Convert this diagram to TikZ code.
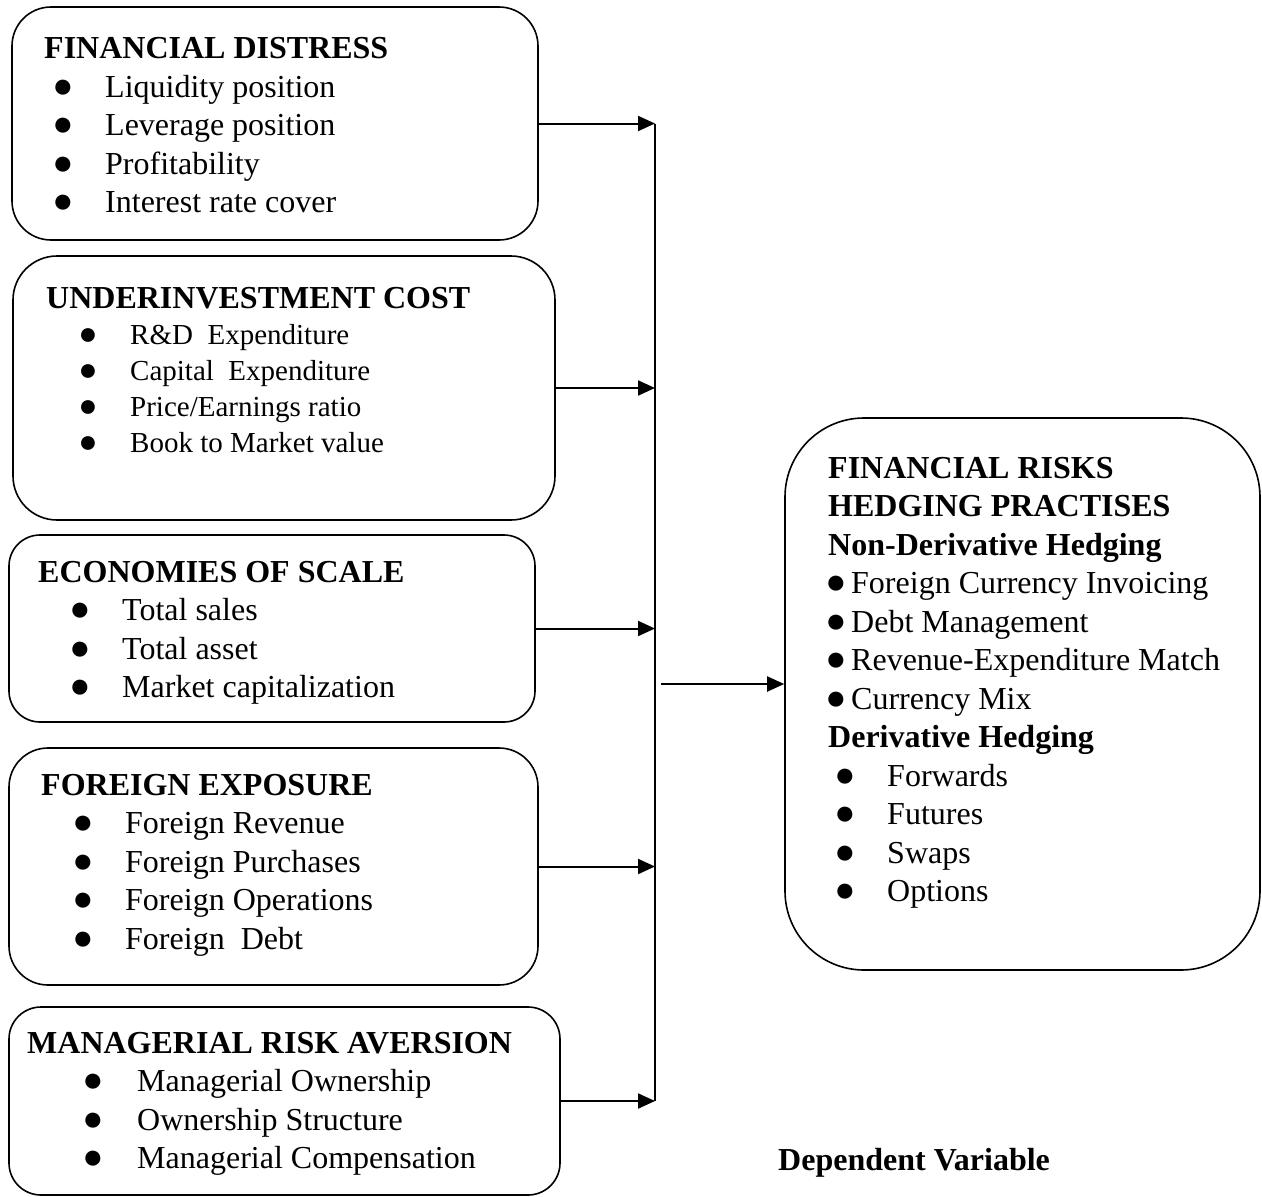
\documentclass[tikz,border=0pt]{standalone}
\usepackage{fontspec}
\setmainfont{Liberation Serif}
\usetikzlibrary{arrows.meta}
\newcommand\fbig{\fontsize{32}{38}\selectfont}
\newcommand\fsmall{\fontsize{29}{35}\selectfont}
\tikzset{
 box/.style={draw,line width=1.6pt,inner sep=0pt},
 head/.style={anchor=base west,inner sep=0pt,font=\fbig\bfseries},
 item/.style={anchor=base west,inner sep=0pt,font=\fbig},
 dot/.style={anchor=base,inner sep=0pt,font=\fontsize{35}{35}\selectfont},
 smalldot/.style={dot,font=\fontsize{32}{32}\selectfont},
 link/.style={line width=2pt,-{Triangle[length=17pt,width=15pt]}}
}
\begin{document}
\begin{tikzpicture}[x=1pt,y=-1pt,line join=round]
 \useasboundingbox (0,0) rectangle (1262,1197);
 % boxes
 \node[box,minimum width=526,minimum height=233,rounded corners=39] (dist) at (275,123.5) {};
 \node[box,minimum width=542,minimum height=264,rounded corners=44] (under) at (284,388) {};
 \node[box,minimum width=526,minimum height=187,rounded corners=31] (scale) at (272,628.5) {};
 \node[box,minimum width=529,minimum height=237,rounded corners=39] (expo) at (273.5,866.5) {};
 \node[box,minimum width=551,minimum height=188,rounded corners=32] (aver) at (284.5,1101) {};
 \node[box,minimum width=475,minimum height=552,rounded corners=79] (hedge) at (1022.5,694) {};

 % financial distress
 \node[head] (dist-h) at (44,58) {FINANCIAL DISTRESS};
 \foreach \t [count=\i] in {Liquidity position,Leverage position,Profitability,Interest rate cover}{
  \node[dot] (dist-b\i) at (63,58.5+38.5*\i) {●};
  \node[item] (dist-\i) at (105,58.5+38.5*\i) {\t};
 }
 % underinvestment
 \node[head] (under-h) at (46,308) {UNDERINVESTMENT COST};
 \foreach \t [count=\i] in {R\&D\ \ Expenditure,Capital\ \ Expenditure,Price/Earnings ratio,Book to Market value}{
  \node[smalldot] (under-b\i) at (88,308+36*\i) {●};
  \node[item,font=\fsmall] (under-\i) at (130,308+36*\i) {\t};
 }
 % economies of scale
 \node[head] (scale-h) at (38,582) {ECONOMIES OF SCALE};
 \foreach \t [count=\i] in {Total sales,Total asset,Market capitalization}{
  \node[dot] (scale-b\i) at (80,582+38.5*\i) {●};
  \node[item] (scale-\i) at (122,582+38.5*\i) {\t};
 }
 % foreign exposure
 \node[head] (expo-h) at (41,795) {FOREIGN EXPOSURE};
 \foreach \t [count=\i] in {Foreign Revenue,Foreign Purchases,Foreign Operations,Foreign\ \ Debt}{
  \node[dot] (expo-b\i) at (83,795+38.5*\i) {●};
  \node[item] (expo-\i) at (125,795+38.5*\i) {\t};
 }
 % risk aversion
 \node[head] (aver-h) at (27,1053) {MANAGERIAL RISK AVERSION};
 \foreach \t [count=\i] in {Managerial Ownership,Ownership Structure,Managerial Compensation}{
  \node[dot] (aver-b\i) at (93,1053+38.5*\i) {●};
  \node[item] (aver-\i) at (137,1053+38.5*\i) {\t};
 }

 % hedging practises
 \node[head] (hedge-h1) at (828,478) {FINANCIAL RISKS};
 \node[head] (hedge-h2) at (828,516.5) {HEDGING PRACTISES};
 \node[head] (hedge-h3) at (828,555) {Non-Derivative Hedging};
 \foreach \t [count=\i] in {Foreign Currency Invoicing,Debt Management,Revenue-Expenditure Match,Currency Mix}{
  \node[dot] (hedge-m\i) at (836,555+38.5*\i) {●};
  \node[item] (hedge-n\i) at (851,555+38.5*\i) {\t};
 }
 \node[head] (hedge-h4) at (828,747.5) {Derivative Hedging};
 \foreach \t [count=\i] in {Forwards,Futures,Swaps,Options}{
  \node[dot] (hedge-b\i) at (845,747.5+38.5*\i) {●};
  \node[item] (hedge-d\i) at (887,747.5+38.5*\i) {\t};
 }
 \node[head] (dep) at (778,1170) {Dependent Variable};

 % connectors
 \coordinate (sp) at (655,0);
 \coordinate (out) at (661,684);
 \draw[line width=1.4pt] (dist.east -| sp) -- (aver.east -| sp);
 \foreach \b in {dist,under,scale,expo,aver}
  \draw[link] (\b.east) -- (\b.east -| sp);
 \draw[link] (out) -- (out -| hedge.west);
\end{tikzpicture}
\end{document}
